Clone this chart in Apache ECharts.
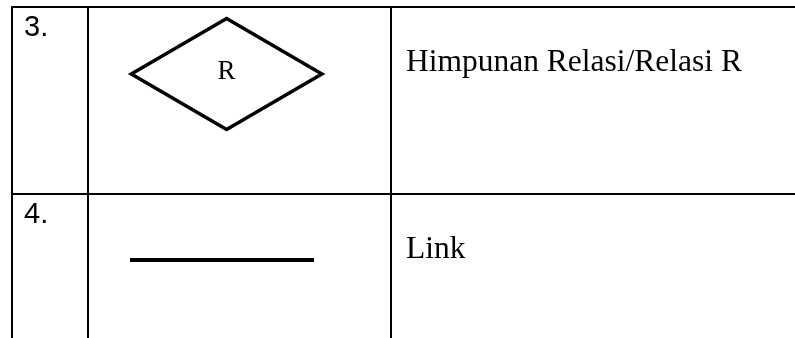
<!DOCTYPE html>
<html>
<head>
<meta charset="utf-8">
<script src="https://cdn.jsdelivr.net/npm/echarts@6/dist/echarts.min.js"></script>
<style>
  html, body { margin: 0; padding: 0; background: #ffffff; }
  #chart { width: 795px; height: 338px; }
</style>
</head>
<body>
<div id="chart"></div>
<script>
// ---- Table content (data) ----
const numbers = ['3.', '4.'];
const descriptions = ['Himpunan Relasi/Relasi R', 'Link'];
const symbolKinds = ['diamond', 'line'];
const symbolTexts = ['R', ''];

// ---- Layout (in axis units = page pixels) ----
const LAYOUT = {
  colEdges: [12, 88, 391],       // vertical rules
  tableRight: 800,
  rowEdges: [7, 194, 381],       // horizontal rules (last is off-page)
  numberX: 24, numberOffset: 21,
  descX: 406, descOffset: 55.8,
  diamond: { cx: 226.6, offset: 67, halfW: 95.3, halfH: 55.5, labelOffset: 64.5 },
  line: { x1: 130, x2: 314, offset: 66 }
};
const STYLE = {
  rule: { stroke: '#000', lineWidth: 2 },
  number: { fontSize: 29, fontFamily: '"Liberation Sans", Arial, sans-serif' },
  desc: { fontSize: 31.5, fontFamily: '"Liberation Serif", "Times New Roman", serif' },
  label: { fontSize: 27, fontFamily: '"Liberation Serif", "Times New Roman", serif' },
  text: '#000'
};

const chart = echarts.init(document.getElementById('chart'), null, { renderer: 'canvas' });

function textEl(pt, str, font, align) {
  return { type: 'text', x: pt[0], y: pt[1], style: {
    text: str, fontSize: font.fontSize, fontFamily: font.fontFamily,
    fill: STYLE.text, align: align, verticalAlign: 'middle' } };
}

function renderRow(params, api) {
  const i = api.value(0);
  const top = LAYOUT.rowEdges[i];
  const bottom = LAYOUT.rowEdges[i + 1];
  const P = (x, y) => api.coord([x, y]);
  const kids = [];

  // top rule of the row
  const a = P(LAYOUT.colEdges[0] - 1, top), b = P(LAYOUT.tableRight, top);
  kids.push({ type: 'line', shape: { x1: a[0], y1: a[1], x2: b[0], y2: b[1] }, style: STYLE.rule });
  // vertical rules
  LAYOUT.colEdges.forEach(function (cx) {
    const p1 = P(cx, top - 1), p2 = P(cx, bottom);
    kids.push({ type: 'line', shape: { x1: p1[0], y1: p1[1], x2: p2[0], y2: p2[1] }, style: STYLE.rule });
  });

  // number
  kids.push(textEl(P(LAYOUT.numberX, top + LAYOUT.numberOffset), numbers[i], STYLE.number, 'left'));

  // symbol
  const kind = symbolKinds[i];
  if (kind === 'diamond') {
    const d = LAYOUT.diamond;
    const cy = top + d.offset;
    const pts = [[d.cx - d.halfW, cy], [d.cx, cy - d.halfH], [d.cx + d.halfW, cy], [d.cx, cy + d.halfH]].map(function (q) { return P(q[0], q[1]); });
    kids.push({ type: 'polygon', shape: { points: pts }, style: { fill: 'none', stroke: '#000', lineWidth: 3.5, lineJoin: 'miter', miterLimit: 10 } });
    kids.push(textEl(P(d.cx, top + d.labelOffset), symbolTexts[i], STYLE.label, 'center'));
  } else if (kind === 'line') {
    const l = LAYOUT.line;
    const p1 = P(l.x1, top + l.offset), p2 = P(l.x2, top + l.offset);
    kids.push({ type: 'line', shape: { x1: p1[0], y1: p1[1], x2: p2[0], y2: p2[1] }, style: { stroke: '#000', lineWidth: 4, lineCap: 'butt' } });
  }

  // description
  kids.push(textEl(P(LAYOUT.descX, top + LAYOUT.descOffset), descriptions[i], STYLE.desc, 'left'));

  return { type: 'group', children: kids };
}

chart.setOption({
  backgroundColor: '#ffffff',
  animation: false,
  grid: { left: 0, right: 0, top: 0, bottom: 0 },
  xAxis: { type: 'value', min: 0, max: 795, show: false },
  yAxis: { type: 'value', min: 0, max: 338, inverse: true, show: false },
  series: [{
    type: 'custom',
    coordinateSystem: 'cartesian2d',
    clip: false,
    silent: true,
    data: numbers.map(function (_, i) { return [i]; }),
    encode: { x: -1, y: -1 },
    renderItem: renderRow
  }]
});
</script>
</body>
</html>
